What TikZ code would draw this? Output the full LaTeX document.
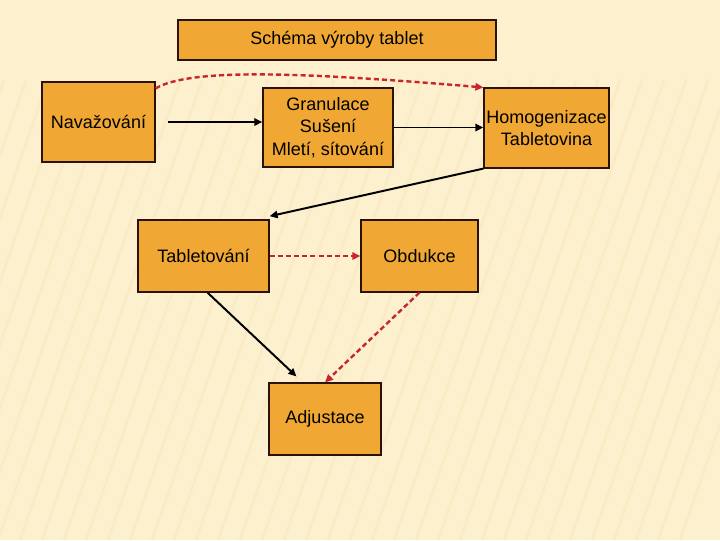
\documentclass[tikz,border=0pt]{standalone}
\usepackage{fontspec}
\setmainfont{Liberation Sans}
\usetikzlibrary{arrows.meta, positioning, calc}
\usepackage{xcolor}
\definecolor{cream}{HTML}{FCF0CE}
\definecolor{stripe}{HTML}{F6E2B0}
\definecolor{boxfill}{HTML}{F0A733}
\definecolor{edge}{HTML}{2A1208}
\definecolor{flow}{HTML}{C8262A}

\begin{document}
\begin{tikzpicture}[x=0.025cm, y=-0.025cm,
    stage/.style={draw=edge, line width=0.8pt, fill=boxfill, inner sep=0pt, align=center,
      font=\fontsize{12.8pt}{16pt}\selectfont, text=black},
    mainflow/.style={line width=1.4pt, black, -{Triangle[length=2mm, width=1.8mm]}},
    sideflow/.style={line width=1.7pt, flow, dash pattern=on 3.6pt off 2.2pt, -{Triangle[length=2mm, width=1.8mm]}}
  ]
    \useasboundingbox (0,0) rectangle (720,540);
    \fill[cream] (0,0) rectangle (720,540);
    \begin{scope}
      \clip (0,0) rectangle (720,540);
      \foreach \k in {0,...,40} {
        \draw[stripe, line width=2pt, opacity=0.3] (-200+\k*22,540) -- (-40+\k*22,80);
      }
    \end{scope}

    \node[stage, minimum width=7.95cm, minimum height=1.0cm] (title) at (337,40) {Schéma výroby tablet};
    \node[stage, minimum width=2.825cm, minimum height=2.0cm] (navaz) at (98.5,122) {Navažování};
    \node[stage, minimum width=3.25cm, minimum height=1.975cm] (granul) at (328,127.5) {Granulace\\Sušení\\Mletí, sítování};
    \node[stage, minimum width=3.125cm, minimum height=2.0cm] (homog) at (546.5,128) {Homogenizace\\Tabletovina};
    \node[stage, minimum width=3.275cm, minimum height=1.8cm] (tablet) at (203.5,256) {Tabletování};
    \node[stage, minimum width=2.925cm, minimum height=1.8cm] (obduk) at (419.5,256) {Obdukce};
    \node[stage, minimum width=2.8cm, minimum height=1.8cm] (adjust) at (325,419) {Adjustace};

    \draw[sideflow] ([yshift=-0.175cm]navaz.north east) .. controls (190,68) and (300,72) .. (homog.north west);
    \draw[mainflow] ([xshift=0.3cm]navaz.east) -- (navaz.east -| granul.west);
    \draw[mainflow] (granul.east) -- (granul.east -| homog.west);
    \draw[mainflow] (homog.south west) -- ([yshift=0.08cm]tablet.north east);
    \draw[sideflow] (tablet.east) -- (obduk.west);
    \draw[mainflow] ([xshift=0.1cm]tablet.south) -- ([xshift=0.7cm, yshift=0.15cm]adjust.north west);
    \draw[sideflow] (obduk.south) -- (adjust.north);
\end{tikzpicture}
\end{document}
